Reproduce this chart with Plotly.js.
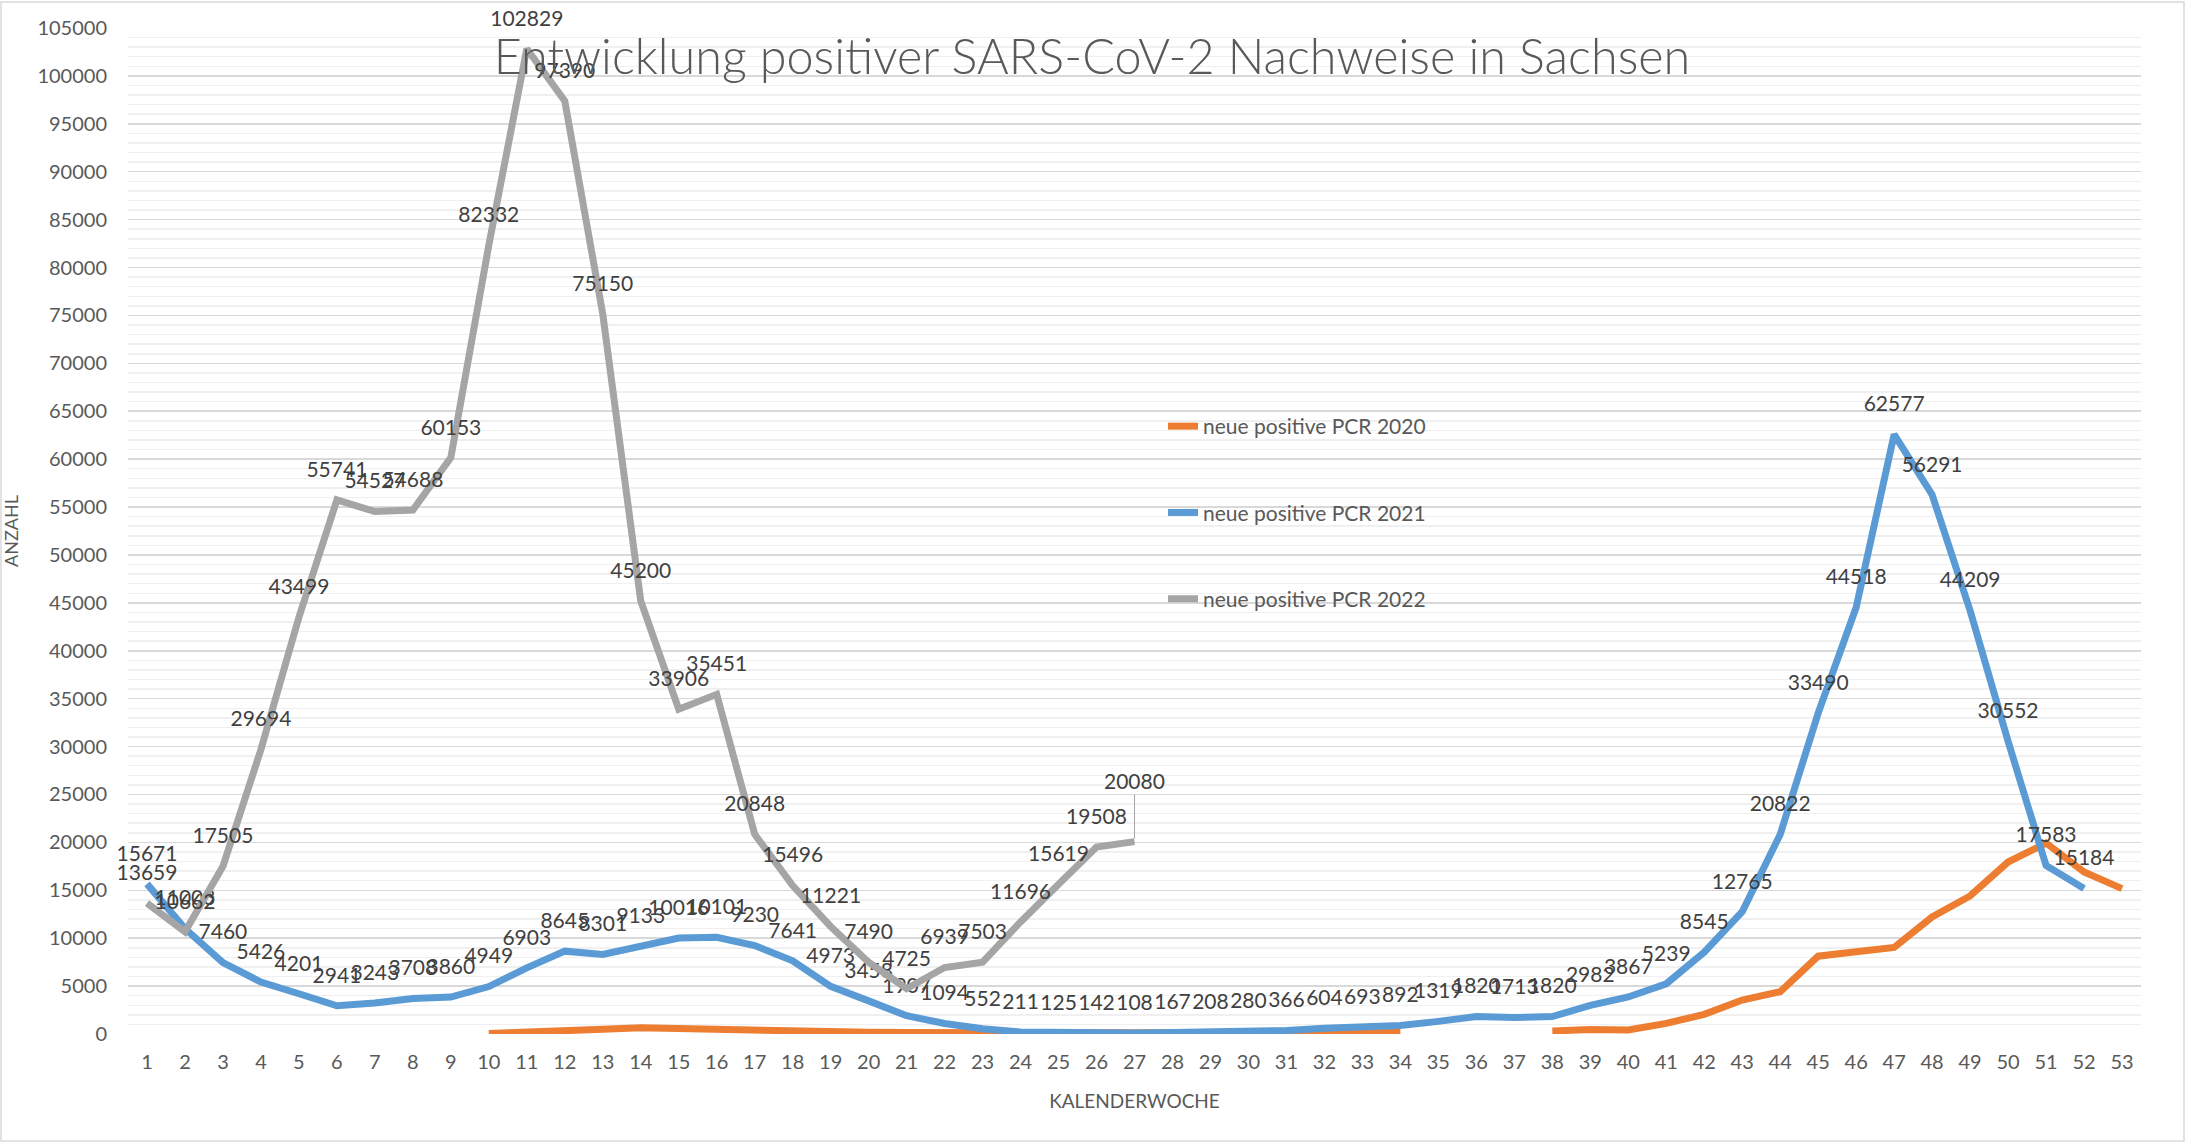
<!DOCTYPE html>
<html>
<head>
<meta charset="utf-8">
<script src="https://cdn.plot.ly/plotly-3.0.1.min.js"></script>
<style>
  html, body { margin: 0; padding: 0; background: #ffffff; }
  #chart { width: 2190px; height: 1144px; }
</style>
</head>
<body>
<div id="chart"></div>
<script>
// Kalenderwochen
const weeks = Array.from({length: 53}, (_, i) => i + 1);

// neue positive PCR 2020 (ab KW 10, Lücke KW 35–37)
const pcr2020 = [
  null, null, null, null, null, null, null, null, null,
  50, 150, 350, 500, 650, 550, 400, 350, 250, 200,
  170, 150, 130, 110, 60, 40, 50, 60, 80, 100,
  120, 150, 180, 220, 260,
  null, null, null,
  310, 480, 420, 1110, 2050, 3540, 4410, 8125, 8580, 9030,
  12220, 14410, 17950, 19930, 16910, 15170
];

// neue positive PCR 2021 (KW 1–52)
const pcr2021 = [
  15671, 11003, 7460, 5426, 4201, 2941, 3243, 3708, 3860, 4949,
  6903, 8645, 8301, 9133, 10016, 10101, 9230, 7641, 4973, 3458,
  1907, 1094, 552, 211, 125, 142, 108, 167, 208, 280,
  366, 604, 693, 892, 1319, 1820, 1713, 1820, 2982, 3867,
  5239, 8545, 12765, 20822, 33490, 44518, 62577, 56291, 44209, 30552,
  17583, 15184
];

// neue positive PCR 2022 (KW 1–27)
const pcr2022 = [
  13659, 10662, 17505, 29694, 43499, 55741, 54527, 54688, 60153, 82332,
  102829, 97390, 75150, 45200, 33906, 35451, 20848, 15496, 11221, 7490,
  4725, 6939, 7503, 11696, 15619, 19508, 20080
];

const seriesNames = ['neue positive PCR 2020', 'neue positive PCR 2021', 'neue positive PCR 2022'];
const seriesColors = ['#ED7D31', '#5B9BD5', '#A5A5A5'];

const FONT = 'Lato, "Open Sans", sans-serif';
const labelFont = {family: FONT, size: 21, color: '#404040'};
const axisFont = {family: FONT, size: 20, color: '#595959'};

// index of the 2022 label that is lifted with a leader line (last point)
const liftedIdx = pcr2022.length - 1;

const traces = [
  {
    x: weeks, y: pcr2020, name: seriesNames[0], legendgroup: 'g0',
    mode: 'lines', type: 'scatter', connectgaps: false,
    line: {color: seriesColors[0], width: 7},
    hoverinfo: 'x+y'
  },
  {
    x: weeks.slice(0, pcr2021.length), y: pcr2021, name: seriesNames[1], legendgroup: 'g1',
    mode: 'lines+markers+text', type: 'scatter', cliponaxis: false,
    line: {color: seriesColors[1], width: 7},
    marker: {size: 27, color: 'rgba(0,0,0,0)', line: {width: 0}},
    text: pcr2021.map(v => String(v)),
    textposition: 'top center', textfont: labelFont,
    hoverinfo: 'x+y'
  },
  {
    x: weeks.slice(0, pcr2022.length), y: pcr2022, name: seriesNames[2], legendgroup: 'g2',
    mode: 'lines+markers+text', type: 'scatter', cliponaxis: false,
    line: {color: seriesColors[2], width: 7},
    marker: {size: 27, color: 'rgba(0,0,0,0)', line: {width: 0}},
    text: pcr2022.map((v, i) => i === liftedIdx ? '' : String(v)),
    textposition: 'top center', textfont: labelFont,
    hoverinfo: 'x+y'
  }
];

const W = 2190, H = 1144;
const mL = 128, mR = 49, mT = 28, mB = 110;
const pw = W - mL - mR, ph = H - mT - mB;
const px2paperX = p => (p - mL) / pw;
const px2paperY = p => (H - mB - p) / ph;

const layout = {
  width: W, height: H,
  margin: {l: mL, r: mR, t: mT, b: mB, pad: 0},
  paper_bgcolor: '#ffffff', plot_bgcolor: '#ffffff',
  showlegend: true,
  title: {
    text: 'Entwicklung positiver SARS-CoV-2 Nachweise in Sachsen',
    font: {family: FONT, size: 48.5, color: '#595959', weight: 300},
    xref: 'container', yref: 'container',
    x: 1092 / W, xanchor: 'center',
    y: 1 - 57 / H, yanchor: 'middle'
  },
  xaxis: {
    type: 'linear', range: [0.5, 53.5],
    tickmode: 'array', tickvals: weeks, ticktext: weeks.map(String),
    showgrid: false, zeroline: false, showline: false, ticks: '',
    tickfont: axisFont, ticklabelstandoff: 14,
    title: {text: 'KALENDERWOCHE', font: {family: FONT, size: 19, color: '#595959'}, standoff: 22},
    automargin: false, fixedrange: true
  },
  yaxis: {
    range: [0, 105000], tickmode: 'linear', tick0: 0, dtick: 5000, tickformat: 'd',
    showgrid: true, gridcolor: '#D9D9D9', gridwidth: 1.5,
    minor: {dtick: 1000, showgrid: true, gridcolor: '#F0F0F0', gridwidth: 1.5},
    zeroline: false, showline: false, ticks: '',
    tickfont: axisFont, ticklabelstandoff: 20,
    title: {text: 'ANZAHL', font: {family: FONT, size: 18, color: '#595959'}, standoff: 20},
    automargin: false, fixedrange: true
  },
  legend: {
    x: px2paperX(1163), xanchor: 'left',
    y: px2paperY(406), yanchor: 'top',
    bgcolor: 'rgba(0,0,0,0)', borderwidth: 0,
    traceorder: 'grouped', tracegroupgap: 56,
    font: {family: FONT, size: 21, color: '#595959'},
    itemwidth: 30
  },
  annotations: [
    {
      x: weeks[liftedIdx], y: pcr2022[liftedIdx], xref: 'x', yref: 'y',
      text: String(pcr2022[liftedIdx]),
      showarrow: true, arrowhead: 0, arrowwidth: 1, arrowcolor: '#A5A5A5',
      ax: 0, ay: -61, standoff: 3,
      font: labelFont
    }
  ],
  shapes: [
    {
      type: 'rect', xref: 'paper', yref: 'paper',
      x0: px2paperX(1), x1: px2paperX(2184), y0: px2paperY(1141), y1: px2paperY(2),
      line: {color: '#D9D9D9', width: 1.5}, fillcolor: 'rgba(0,0,0,0)', layer: 'below'
    }
  ]
};

Plotly.newPlot('chart', traces, layout, {displayModeBar: false, staticPlot: true});
</script>
</body>
</html>
